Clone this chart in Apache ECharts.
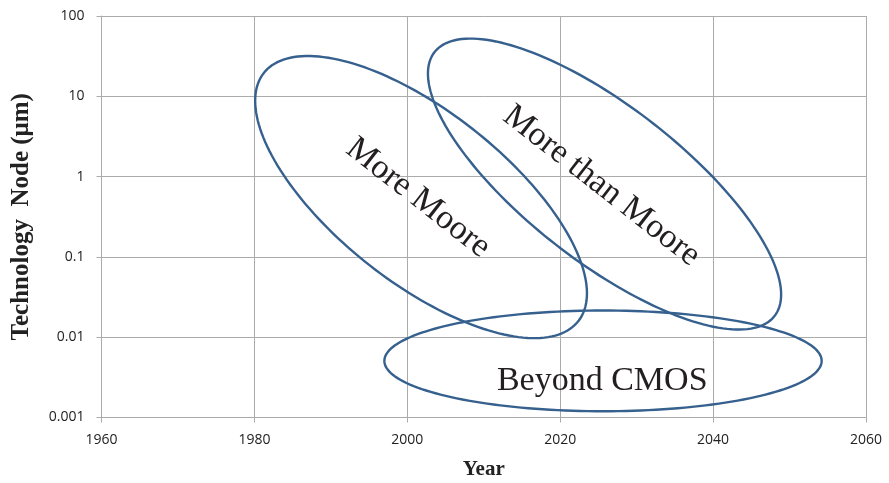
<!DOCTYPE html>
<html>
<head>
<meta charset="utf-8">
<script src="https://cdn.jsdelivr.net/npm/echarts@6/dist/echarts.min.js"></script>
<style>
html,body{margin:0;padding:0;background:#fff;}
#chart{width:889px;height:483px;}
</style>
</head>
<body>
<div id="chart"></div>
<script>
// Axis ticks
const xTicks = [1960, 1980, 2000, 2020, 2040, 2060];
const yTicks = [0.001, 0.01, 0.1, 1, 10, 100];

// Ellipses: centre, the right-most point, and the
// upper crossing of the vertical line through the centre
const ellipseNames      = ['More Moore', 'More than Moore', 'Beyond CMOS'];
const ellipseCenterYear = [2001.8, 2025.8, 2025.6];
const ellipseCenterNode = [0.556, 0.807, 0.00507];
const ellipseRightYear  = [2023.5, 2048.9, 2054.2];
const ellipseRightNode  = [0.0352, 0.0340, 0.00507];
const ellipseTopNode    = [10.7, 12.2, 0.0215];

// Region labels
const labelTexts = ['More Moore', 'More than Moore', 'Beyond CMOS'];
const labelYears = [2001.4, 2025.4, 2025.5];
const labelNodes = [0.542, 0.764, 0.00285];

const ellipseData = ellipseNames.map((n, i) => [ellipseCenterYear[i], ellipseCenterNode[i], ellipseRightYear[i], ellipseRightNode[i], ellipseTopNode[i]]);
const labelData = labelTexts.map((t, i) => [labelYears[i], labelNodes[i]]);
const labelRot = [-38, -38, 0];

const chart = echarts.init(document.getElementById('chart'), null, {renderer: 'canvas'});
const gridColor = '#ababab';
chart.setOption({
  animation: false,
  backgroundColor: '#ffffff',
  grid: {left: 101.5, right: 23, top: 16, bottom: 65.5, containLabel: false, outerBoundsMode: 'none'},
  xAxis: {
    type: 'value', min: xTicks[0], max: xTicks[xTicks.length - 1], interval: 20,
    name: 'Year', nameLocation: 'middle', nameGap: 42,
    nameTextStyle: {fontFamily: 'Liberation Serif', fontWeight: 'bold', fontSize: 21, color: '#222'},
    axisLine: {show: true, lineStyle: {color: gridColor, width: 1}},
    axisTick: {show: true, inside: false, length: 5, lineStyle: {color: gridColor}},
    axisLabel: {margin: 16, fontFamily: 'Open Sans', fontSize: 14, color: '#222',
      formatter: v => String(v)},
    splitLine: {show: true, lineStyle: {color: gridColor, width: 1}}
  },
  yAxis: {
    type: 'log', logBase: 10, min: yTicks[0], max: yTicks[yTicks.length - 1],
    name: 'Technology  Node (\u03bcm)', nameLocation: 'middle', nameGap: 67, nameRotate: 90,
    nameTextStyle: {fontFamily: 'Liberation Serif', fontWeight: 'bold', fontSize: 25, color: '#222'},
    axisLine: {show: true, lineStyle: {color: gridColor, width: 1}},
    axisTick: {show: true, inside: false, length: 5, lineStyle: {color: gridColor}},
    axisLabel: {margin: 17, fontFamily: 'Open Sans', fontSize: 14, color: '#222',
      formatter: v => {
        const idx = yTicks.findIndex(t => Math.abs(Math.log10(t) - Math.log10(v)) < 1e-6);
        return idx >= 0 ? String(yTicks[idx]) : '';
      }},
    splitLine: {show: true, lineStyle: {color: gridColor, width: 1}}
  },
  series: [
    {
      type: 'custom', name: 'regions', clip: false,
      data: ellipseData,
      renderItem: function (params, api) {
        const c = api.coord([api.value(0), api.value(1)]);
        const r = api.coord([api.value(2), api.value(3)]);
        const t = api.coord([api.value(0), api.value(4)]);
        const px = r[0] - c[0], py = r[1] - c[1];
        const qx = t[0] - c[0], qy = t[1] - c[1];
        const pts = [];
        const N = 180;
        for (let k = 0; k < N; k++) {
          const a = 2 * Math.PI * k / N;
          pts.push([c[0] + px * Math.cos(a) + qx * Math.sin(a), c[1] + py * Math.cos(a) + qy * Math.sin(a)]);
        }
        return {
          type: 'polygon', shape: {points: pts},
          style: {fill: 'none', stroke: '#36608e', lineWidth: 2.4}
        };
      }
    },
    {
      type: 'custom', name: 'labels', clip: false,
      data: labelData,
      renderItem: function (params, api) {
        const p = api.coord([api.value(0), api.value(1)]);
        return {
          type: 'text', x: p[0], y: p[1],
          rotation: labelRot[params.dataIndex] * Math.PI / 180,
          style: {
            text: labelTexts[params.dataIndex],
            fontFamily: 'Liberation Serif', fontSize: 34,
            fill: '#231f20', align: 'center', verticalAlign: 'middle'
          }
        };
      }
    }
  ]
});
</script>
</body>
</html>
